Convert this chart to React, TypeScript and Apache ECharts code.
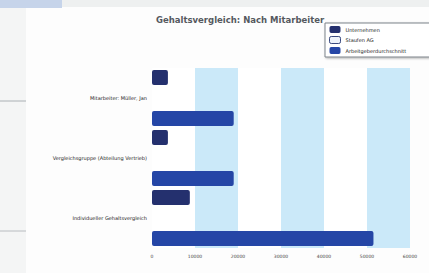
import React, { useEffect, useRef } from "react";
import * as echarts from "echarts";

const title = "Gehaltsvergleich: Nach Mitarbeiter";
const categories = ["Mitarbeiter: Müller, Jan", "Vergleichsgruppe (Abteilung Vertrieb)", "Individueller Gehaltsvergleich"];
const seriesNames = ["Unternehmen", "Staufen AG", "Arbeitgeberdurchschnitt"];
const valuesUnternehmen = [3700, 3700, 8800];
const valuesStaufen = [0, 0, 0];
const valuesArbeitgeber = [19000, 19000, 51500];
const xTicks = [0, 10000, 20000, 30000, 40000, 50000, 60000];

export default function App() {
  const ref = useRef<HTMLDivElement>(null);
  useEffect(() => {
    if (!ref.current) return;
    const chart = echarts.init(ref.current, null, { renderer: "svg" });
    chart.setOption({
      animation: false,
      backgroundColor: "#eef0f0",
      textStyle: { fontFamily: "DejaVu Sans" },
      graphic: [
        { type: "rect", shape: { x: 26, y: 7, width: 403, height: 266 }, style: { fill: "#fdfdfd" }, z: -10 },
        { type: "rect", shape: { x: 0, y: 0, width: 62, height: 8 }, style: { fill: "#c6d4ea" }, z: -10 },
        { type: "rect", shape: { x: 0, y: 8, width: 26, height: 265 }, style: { fill: "#f4f5f5" }, z: -10 },
        { type: "line", shape: { x1: 0, y1: 101, x2: 26, y2: 101 }, style: { stroke: "#aab0b4", lineWidth: 1 }, z: -9 },
        { type: "line", shape: { x1: 0, y1: 231, x2: 26, y2: 231 }, style: { stroke: "#b8bcc0", lineWidth: 1 }, z: -9 },
      ],
      title: {
        text: title,
        left: 151,
        top: 10,
        textStyle: { fontSize: 8.5, fontWeight: "bold", color: "#55595f" },
      },
      legend: {
        orient: "vertical",
        left: 325,
        top: 23,
        data: [
          { name: seriesNames[0] },
          { name: seriesNames[1], itemStyle: { color: "#eef3fa", borderColor: "#3a4a80", borderWidth: 1 } },
          { name: seriesNames[2] },
        ],
        itemWidth: 11,
        itemHeight: 7,
        itemGap: 3,
        padding: [3, 30, 3, 4],
        borderColor: "#7d838a",
        borderWidth: 1,
        backgroundColor: "#ffffff",
        textStyle: { fontSize: 5, color: "#222" },
        shadowColor: "rgba(0,0,0,0.3)",
        shadowBlur: 2,
        shadowOffsetX: 1,
        shadowOffsetY: 1,
      },
      grid: { left: 152, right: 19, top: 68, bottom: 25 },
      xAxis: {
        type: "value",
        min: 0,
        max: 60000,
        interval: 10000,
        axisLine: { show: false },
        axisTick: { show: false },
        splitLine: { show: false },
        splitArea: { show: true, areaStyle: { color: ["#ffffff", "#cbe9f9"] } },
        axisLabel: { fontSize: 4.5, color: "#444", margin: 6, formatter: (v: number) => (xTicks.includes(v) ? String(v) : "") },
      },
      yAxis: {
        type: "category",
        inverse: true,
        data: categories,
        axisLine: { show: false },
        axisTick: { show: false },
        axisLabel: { fontSize: 5, color: "#222", margin: 5 },
      },
      series: [
        { name: seriesNames[0], type: "bar", data: valuesUnternehmen, barWidth: 15, barGap: "37%", itemStyle: { color: "#24306e", borderRadius: 2 } },
        { name: seriesNames[1], type: "bar", data: valuesStaufen, barWidth: 15, barGap: "37%", itemStyle: { color: "#eef3fa" } },
        { name: seriesNames[2], type: "bar", data: valuesArbeitgeber, barWidth: 15, barGap: "37%", itemStyle: { color: "#2546a6", borderRadius: 2 } },
      ],
    });
    return () => chart.dispose();
  }, []);
  return <div ref={ref} style={{ position: "fixed", left: 0, top: 0, width: 429, height: 273 }} />;
}
